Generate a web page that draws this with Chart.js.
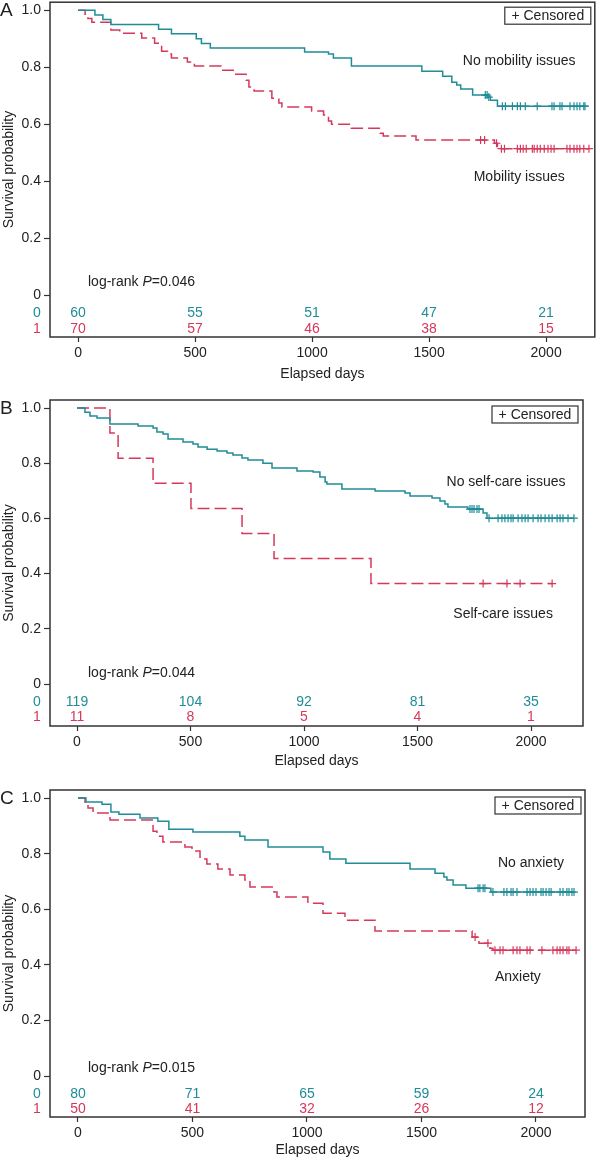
<!DOCTYPE html>
<html>
<head>
<meta charset="utf-8">
<script src="https://cdn.jsdelivr.net/npm/chart.js@4.4.1/dist/chart.umd.min.js"></script>
<style>
  body { margin: 0; background: #fff; }
  canvas { position: absolute; left: 0; }
</style>
</head>
<body>
<canvas id="chartA" width="600" height="388" style="top:-3px"></canvas>
<canvas id="chartB" width="600" height="385" style="top:385px"></canvas>
<canvas id="chartC" width="600" height="389" style="top:770px"></canvas>
<script>
const xTicks = [0, 500, 1000, 1500, 2000];
const yTicks = [0, 0.2, 0.4, 0.6, 0.8, 1.0];
const groupCodes = ['0', '1'];

/* Panel A - mobility */
const aNoTime = [0, 72, 106, 140, 344, 399, 505, 527, 565, 968, 1070, 1091, 1168, 1469, 1558, 1597, 1618, 1635, 1686, 1749, 1762, 1792];
const aNoSurv = [1, 0.983, 0.967, 0.95, 0.933, 0.917, 0.9, 0.883, 0.867, 0.853, 0.846, 0.832, 0.804, 0.786, 0.768, 0.747, 0.737, 0.723, 0.702, 0.695, 0.684, 0.663];
const aNoCens = [1740, 1748, 1755, 1813, 1826, 1856, 1877, 1890, 1911, 1962, 2025, 2034, 2059, 2068, 2102, 2119, 2132, 2144, 2161, 2166];
const aYesTime = [0, 30, 42, 59, 140, 178, 272, 327, 357, 382, 399, 467, 497, 611, 667, 718, 730, 752, 828, 858, 871, 998, 1049, 1070, 1083, 1168, 1291, 1304, 1444, 1779, 1792, 1800];
const aYesSurv = [1, 0.986, 0.971, 0.958, 0.93, 0.919, 0.902, 0.884, 0.856, 0.846, 0.832, 0.818, 0.804, 0.789, 0.775, 0.754, 0.73, 0.716, 0.691, 0.674, 0.66, 0.646, 0.632, 0.611, 0.6, 0.586, 0.568, 0.558, 0.544, 0.533, 0.522, 0.514];
const aYesCens = [1720, 1737, 1788, 1809, 1822, 1877, 1890, 1902, 1915, 1941, 1949, 1962, 1975, 1992, 2008, 2021, 2034, 2089, 2102, 2119, 2132, 2144, 2161, 2183];
const aRiskNo = [60, 55, 51, 47, 21];
const aRiskYes = [70, 57, 46, 38, 15];

/* Panel B - self-care */
const bNoTime = [0, 35, 57, 88, 145, 269, 335, 352, 379, 401, 467, 511, 533, 573, 617, 661, 687, 727, 753, 819, 859, 969, 1040, 1070, 1093, 1101, 1167, 1313, 1445, 1467, 1564, 1599, 1621, 1634, 1722, 1789, 1806];
const bNoSurv = [1, 0.985, 0.971, 0.964, 0.942, 0.935, 0.928, 0.913, 0.906, 0.888, 0.877, 0.87, 0.859, 0.851, 0.844, 0.837, 0.83, 0.819, 0.812, 0.8, 0.783, 0.772, 0.768, 0.75, 0.732, 0.725, 0.707, 0.699, 0.692, 0.681, 0.674, 0.663, 0.652, 0.641, 0.634, 0.62, 0.601];
const bNoCens = [1731, 1740, 1749, 1762, 1771, 1815, 1855, 1872, 1885, 1899, 1912, 1921, 1943, 1960, 1974, 1987, 2009, 2031, 2044, 2062, 2079, 2093, 2115, 2128, 2141, 2163, 2189];
const bYesTime = [0, 145, 181, 335, 502, 727, 868, 1295];
const bYesSurv = [1, 0.909, 0.818, 0.727, 0.636, 0.545, 0.455, 0.364];
const bYesCens = [1789, 1894, 1952, 2093];
const bRiskNo = [119, 104, 92, 81, 35];
const bRiskYes = [11, 8, 5, 4, 1];

/* Panel C - anxiety */
const cNoTime = [0, 35, 105, 144, 179, 271, 349, 397, 502, 707, 729, 830, 1070, 1100, 1170, 1450, 1559, 1598, 1611, 1638, 1694, 1803];
const cNoSurv = [1, 0.986, 0.978, 0.95, 0.942, 0.928, 0.917, 0.888, 0.878, 0.863, 0.849, 0.824, 0.806, 0.781, 0.766, 0.745, 0.73, 0.716, 0.705, 0.687, 0.676, 0.662];
const cNoCens = [1747, 1755, 1769, 1777, 1812, 1860, 1873, 1891, 1900, 1917, 1961, 1974, 1987, 2000, 2022, 2031, 2044, 2057, 2066, 2105, 2118, 2135, 2144, 2157, 2166];
const cYesTime = [0, 31, 44, 66, 140, 328, 345, 371, 467, 498, 533, 563, 611, 664, 729, 751, 856, 869, 1004, 1070, 1166, 1297, 1721, 1742, 1751, 1799, 1812];
const cYesSurv = [1, 0.982, 0.964, 0.946, 0.921, 0.881, 0.863, 0.842, 0.824, 0.81, 0.781, 0.763, 0.745, 0.723, 0.705, 0.68, 0.662, 0.644, 0.622, 0.586, 0.561, 0.522, 0.5, 0.489, 0.478, 0.46, 0.453];
const cYesCens = [1734, 1790, 1821, 1843, 1856, 1900, 1917, 1930, 1961, 1974, 2026, 2074, 2092, 2105, 2118, 2135, 2144, 2175];
const cRiskNo = [80, 71, 65, 59, 24];
const cRiskYes = [50, 41, 32, 26, 12];

const TEAL = '#1f8c98';
const RED = '#d6385c';
const INK = '#222';
const FONT = '"Liberation Sans", Arial, sans-serif';
Chart.defaults.font.family = FONT;
Chart.defaults.font.size = 14;
Chart.defaults.color = INK;

function survAt(times, surv, t) {
    let s = surv[0];
    for (let i = 0; i < times.length; i++) {
        if (times[i] <= t) s = surv[i];
    }
    return s;
}

function curvePoints(times, surv, cens) {
    const pts = times.map((t, i) => ({ x: t, y: surv[i] }));
    const end = Math.max(times[times.length - 1], ...cens);
    pts.push({ x: end, y: surv[surv.length - 1] });
    return pts;
}

function censorPoints(times, surv, cens) {
    return cens.map(t => ({ x: t, y: survAt(times, surv, t) }));
}

function makePanel(id, p) {
    // extra drawing: frame, censored key, group labels, log-rank, numbers at risk
    const extras = {
        id: 'kmExtras',
        afterDraw(chart) {
            const ctx = chart.ctx;
            const a = chart.chartArea;
            const xs = chart.scales.x;
            const ys = chart.scales.y;
            ctx.save();
            ctx.strokeStyle = '#333';
            ctx.lineWidth = 1.5;
            ctx.strokeRect(a.left, a.top, a.right - a.left, a.bottom - a.top);

            // censored key
            ctx.lineWidth = 1.2;
            ctx.strokeRect(a.right - p.keyRight - 86, a.top + p.keyTop, 86, 17);
            ctx.fillStyle = INK;
            ctx.font = '14px ' + FONT;
            ctx.textAlign = 'center';
            ctx.textBaseline = 'middle';
            ctx.fillText('+ Censored', a.right - p.keyRight - 43, a.top + p.keyTop + 9);

            // panel letter
            ctx.font = '19px ' + FONT;
            ctx.textAlign = 'left';
            ctx.fillText(p.letter, 0, ys.getPixelForValue(1) + 1);

            // curve labels
            ctx.font = '14px ' + FONT;
            ctx.textAlign = 'center';
            ctx.fillText(p.noLabel, xs.getPixelForValue(p.noAt[0]), ys.getPixelForValue(p.noAt[1]));
            ctx.fillText(p.yesLabel, xs.getPixelForValue(p.yesAt[0]), ys.getPixelForValue(p.yesAt[1]));

            // log-rank P
            ctx.textAlign = 'left';
            let lx = a.left + 38;
            const ly = ys.getPixelForValue(p.pAt);
            ctx.fillText('log-rank ', lx, ly);
            lx += ctx.measureText('log-rank ').width;
            ctx.font = 'italic 14px ' + FONT;
            ctx.fillText('P', lx, ly);
            lx += ctx.measureText('P').width;
            ctx.font = '14px ' + FONT;
            ctx.fillText('=' + p.pValue, lx, ly);

            // numbers at risk
            ctx.textAlign = 'center';
            const rows = [[p.riskNo, TEAL, -0.064], [p.riskYes, RED, -0.12]];
            rows.forEach(([vals, col, yv], r) => {
                const ry = ys.getPixelForValue(yv);
                ctx.fillStyle = col;
                ctx.fillText(groupCodes[r], a.left - 13, ry);
                vals.forEach((v, i) => ctx.fillText(String(v), xs.getPixelForValue(xTicks[i]), ry));
            });
            ctx.restore();
        }
    };

    return new Chart(document.getElementById(id).getContext('2d'), {
        type: 'line',
        data: {
            datasets: [
                {
                    data: curvePoints(p.no.time, p.no.surv, p.no.cens),
                    borderColor: TEAL,
                    borderWidth: 1.5,
                    stepped: true,
                    pointRadius: 0,
                    fill: false
                },
                {
                    data: curvePoints(p.yes.time, p.yes.surv, p.yes.cens),
                    borderColor: RED,
                    borderWidth: 1.5,
                    borderDash: [12, 5],
                    stepped: true,
                    pointRadius: 0,
                    fill: false
                },
                {
                    data: censorPoints(p.no.time, p.no.surv, p.no.cens),
                    showLine: false,
                    pointStyle: 'cross',
                    pointRadius: 4,
                    pointBorderWidth: 1.2,
                    borderColor: TEAL,
                    backgroundColor: TEAL
                },
                {
                    data: censorPoints(p.yes.time, p.yes.surv, p.yes.cens),
                    showLine: false,
                    pointStyle: 'cross',
                    pointRadius: 4,
                    pointBorderWidth: 1.2,
                    borderColor: RED,
                    backgroundColor: RED
                }
            ]
        },
        options: {
            responsive: false,
            animation: false,
            layout: {
                padding: { top: p.padTop, right: p.padRight, left: 0, bottom: 0 }
            },
            plugins: {
                legend: { display: false },
                tooltip: { enabled: false }
            },
            scales: {
                x: {
                    type: 'linear',
                    min: p.xMin,
                    max: p.xMax,
                    afterBuildTicks: s => { s.ticks = xTicks.map(v => ({ value: v })); },
                    afterFit: s => { s.height = p.xAxisH; s.paddingLeft = 0; s.paddingRight = 0; },
                    grid: { drawOnChartArea: false, color: '#333', tickLength: 5, tickWidth: 1.2 },
                    border: { display: false },
                    ticks: { padding: 3, maxRotation: 0, color: INK, callback: v => String(v) },
                    title: { display: true, text: 'Elapsed days', color: INK, padding: { top: 0, bottom: p.titlePad } }
                },
                y: {
                    type: 'linear',
                    min: p.yMin,
                    max: p.yMax,
                    afterBuildTicks: s => { s.ticks = yTicks.map(v => ({ value: v })); },
                    afterFit: s => { s.width = 50; s.paddingTop = 0; s.paddingBottom = 0; },
                    grid: { drawOnChartArea: false, color: '#333', tickLength: 6, tickWidth: 1.2 },
                    border: { display: false },
                    ticks: { padding: 3, color: INK, callback: v => v === 0 ? '0' : v.toFixed(1) },
                    title: { display: true, text: 'Survival probability', color: INK, padding: { top: 1, bottom: 0 } }
                }
            }
        },
        plugins: [extras]
    });
}

makePanel('chartA', {
    letter: 'A', noLabel: 'No mobility issues', yesLabel: 'Mobility issues', pValue: '0.046',
    no: { time: aNoTime, surv: aNoSurv, cens: aNoCens },
    yes: { time: aYesTime, surv: aYesSurv, cens: aYesCens },
    riskNo: aRiskNo, riskYes: aRiskYes,
    noAt: [1885, 0.821], yesAt: [1885, 0.414], pAt: 0.045,
    xMin: -120, xMax: 2208, yMin: -0.147, yMax: 1.028,
    padTop: 5, padRight: 2, xAxisH: 48, titlePad: 2, keyRight: 4, keyTop: 5
});

makePanel('chartB', {
    letter: 'B', noLabel: 'No self-care issues', yesLabel: 'Self-care issues', pValue: '0.044',
    no: { time: bNoTime, surv: bNoSurv, cens: bNoCens },
    yes: { time: bYesTime, surv: bYesSurv, cens: bYesCens },
    riskNo: bRiskNo, riskYes: bRiskYes,
    noAt: [1890, 0.732], yesAt: [1877, 0.254], pAt: 0.04,
    xMin: -119, xMax: 2229, yMin: -0.152, yMax: 1.029,
    padTop: 15, padRight: 17, xAxisH: 44, titlePad: 0, keyRight: 5, keyTop: 6
});

makePanel('chartC', {
    letter: 'C', noLabel: 'No anxiety', yesLabel: 'Anxiety', pValue: '0.015',
    no: { time: cNoTime, surv: cNoSurv, cens: cNoCens },
    yes: { time: cYesTime, surv: cYesSurv, cens: cYesCens },
    riskNo: cRiskNo, riskYes: cRiskYes,
    noAt: [1978, 0.766], yesAt: [1921, 0.356], pAt: 0.03,
    xMin: -122, xMax: 2214, yMin: -0.147, yMax: 1.029,
    padTop: 20, padRight: 15, xAxisH: 42, titlePad: 0, keyRight: 4, keyTop: 7
});
</script>
</body>
</html>
